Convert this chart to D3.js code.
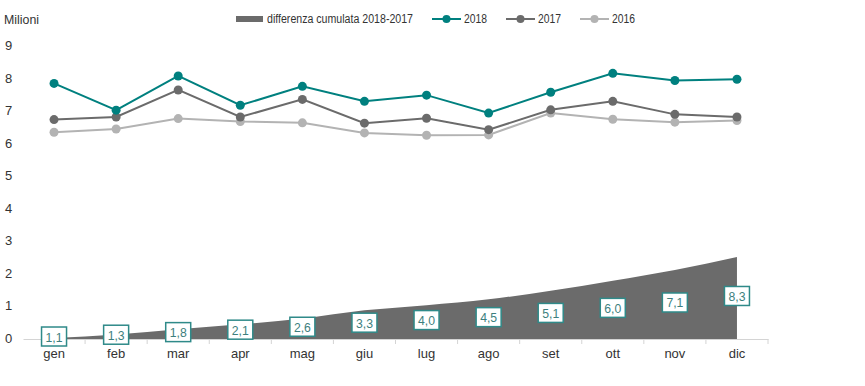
<!DOCTYPE html>
<html>
<head>
<meta charset="utf-8">
<script src="https://cdn.jsdelivr.net/npm/d3@7"></script>
<style>
  body { margin: 0; background: #fff; }
  svg { display: block; font-family: "Liberation Sans Narrow", "Arial Narrow", "Liberation Sans", Arial, sans-serif; }
</style>
</head>
<body>
<svg id="chart" width="865" height="386"></svg>
<script>
// data
const months = ['gen', 'feb', 'mar', 'apr', 'mag', 'giu', 'lug', 'ago', 'set', 'ott', 'nov', 'dic'];
const v2018 = [7.85, 7.03, 8.08, 7.18, 7.76, 7.30, 7.49, 6.94, 7.58, 8.16, 7.94, 7.98];
const v2017 = [6.74, 6.82, 7.65, 6.82, 7.36, 6.63, 6.78, 6.43, 7.04, 7.30, 6.90, 6.82];
const v2016 = [6.35, 6.45, 6.77, 6.68, 6.64, 6.33, 6.26, 6.27, 6.94, 6.75, 6.66, 6.71];
const cumDiff = [0.03, 0.14, 0.30, 0.45, 0.63, 0.88, 1.04, 1.22, 1.48, 1.79, 2.12, 2.52];
const diffLabels = [1.1, 1.3, 1.8, 2.1, 2.6, 3.3, 4.0, 4.5, 5.1, 6.0, 7.1, 8.3];
const yTicks = [0, 1, 2, 3, 4, 5, 6, 7, 8, 9];

const teal = '#00807f', dark = '#6b6b6b', light = '#b3b3b3';

const svg = d3.select('#chart');

const x = d3.scaleBand().domain(months).range([23, 768]);
const cx = m => x(m) + x.bandwidth() / 2;
const y = d3.scaleLinear().domain([0, 9]).range([339, 46]);

// cumulative difference area
const area = d3.area()
  .x((d, i) => cx(months[i]))
  .y0(y(0))
  .y1(d => y(d))
  .curve(d3.curveMonotoneX);

svg.append('path')
  .datum(cumDiff)
  .attr('d', area)
  .attr('fill', dark);

// x axis
const xAxis = svg.append('g')
  .attr('transform', `translate(0,${y(0)})`)
  .call(d3.axisBottom(x).tickSize(0).tickPadding(10));
xAxis.select('.domain').attr('stroke', '#d4d4d4');
xAxis.selectAll('text').attr('font-size', 13).attr('fill', '#333');

// tick marks at band edges
svg.append('g').selectAll('line')
  .data(months)
  .join('line')
  .attr('x1', d => x(d) + x.bandwidth())
  .attr('x2', d => x(d) + x.bandwidth())
  .attr('y1', y(0))
  .attr('y2', y(0) + 5)
  .attr('stroke', '#d4d4d4');

// y axis labels
svg.append('g').selectAll('text')
  .data(yTicks)
  .join('text')
  .attr('x', 5)
  .attr('y', d => y(d) + 4)
  .attr('font-size', 13)
  .attr('fill', '#333')
  .text(d => d);

svg.append('text')
  .attr('x', 4)
  .attr('y', 24)
  .attr('font-size', 13)
  .attr('fill', '#333')
  .attr('textLength', 35)
  .attr('lengthAdjust', 'spacingAndGlyphs')
  .text('Milioni');

// lines
const line = d3.line().x((d, i) => cx(months[i])).y(d => y(d));
const series = [
  { name: '2016', values: v2016, color: light },
  { name: '2017', values: v2017, color: dark },
  { name: '2018', values: v2018, color: teal }
];

series.forEach(s => {
  svg.append('path')
    .datum(s.values)
    .attr('d', line)
    .attr('fill', 'none')
    .attr('stroke', s.color)
    .attr('stroke-width', 2);
  svg.append('g').selectAll('circle')
    .data(s.values)
    .join('circle')
    .attr('cx', (d, i) => cx(months[i]))
    .attr('cy', d => y(d))
    .attr('r', 4.5)
    .attr('fill', s.color);
});

// difference labels
const fmt = d => d.toFixed(1).replace('.', ',');
const lab = svg.append('g').selectAll('g')
  .data(diffLabels)
  .join('g')
  .attr('transform', (d, i) => `translate(${cx(months[i])},${y(cumDiff[i] / 2) - 2})`);
lab.append('rect')
  .attr('x', -12.5).attr('y', -9.5)
  .attr('width', 25).attr('height', 19)
  .attr('fill', '#fff')
  .attr('stroke', '#2f8a89')
  .attr('stroke-width', 1.5);
lab.append('text')
  .attr('text-anchor', 'middle')
  .attr('y', 5)
  .attr('font-size', 13)
  .attr('fill', '#3d7f7e')
  .attr('textLength', 17)
  .attr('lengthAdjust', 'spacingAndGlyphs')
  .text(fmt);

// legend
const lg = svg.append('g').attr('font-size', 12).attr('fill', '#333');
lg.append('rect').attr('x', 236).attr('y', 16).attr('width', 27).attr('height', 6).attr('fill', dark);
lg.append('text').attr('x', 267).attr('y', 23)
  .attr('textLength', 146).attr('lengthAdjust', 'spacingAndGlyphs')
  .text('differenza cumulata 2018-2017');
const legItems = [
  { name: '2018', color: teal, x0: 432 },
  { name: '2017', color: dark, x0: 506 },
  { name: '2016', color: light, x0: 580 }
];
legItems.forEach(it => {
  lg.append('line').attr('x1', it.x0).attr('x2', it.x0 + 29).attr('y1', 19).attr('y2', 19)
    .attr('stroke', it.color).attr('stroke-width', 2);
  lg.append('circle').attr('cx', it.x0 + 14.5).attr('cy', 19).attr('r', 4).attr('fill', it.color);
  lg.append('text').attr('x', it.x0 + 32).attr('y', 23)
    .attr('textLength', 23).attr('lengthAdjust', 'spacingAndGlyphs')
    .text(it.name);
});
</script>
</body>
</html>
